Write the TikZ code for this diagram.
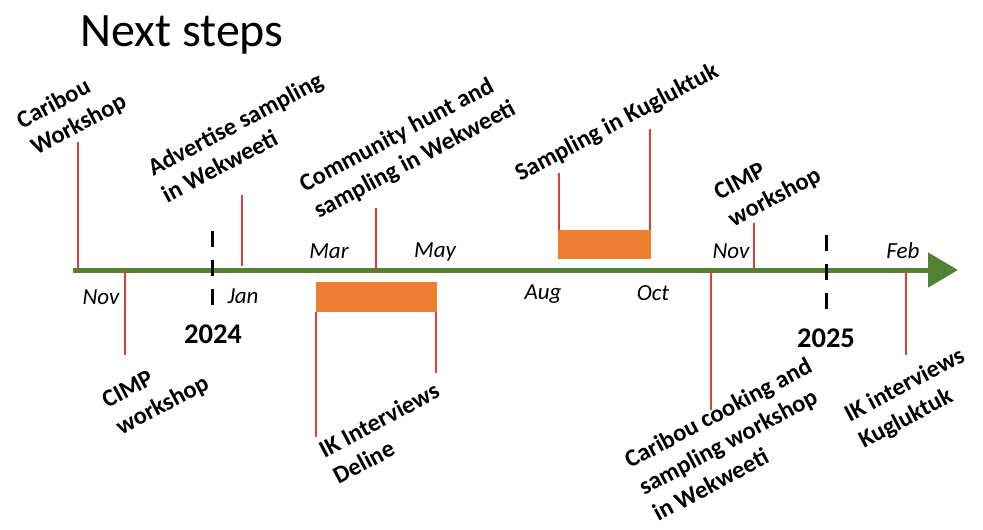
\documentclass[tikz,border=0pt]{standalone}
\usepackage{fontspec}
\setmainfont{Carlito}
\usetikzlibrary{arrows.meta}
\definecolor{axisgreen}{HTML}{548235}
\definecolor{barorange}{HTML}{ED7D31}
\definecolor{tickred}{HTML}{E03C3C}
\begin{document}
\begin{tikzpicture}[x=1pt,y=-1pt,
  evlabel/.style={rotate=28,align=left,inner sep=0pt,font=\bfseries\fontsize{24.5}{30}\selectfont},
  month/.style={anchor=base,inner sep=0pt,font=\itshape\fontsize{23}{27}\selectfont},
  year/.style={anchor=base,inner sep=0pt,font=\bfseries\fontsize{28.5}{32}\selectfont},
  tick/.style={draw=tickred,line width=1.5pt},
  bar/.style={fill=barorange,draw=none},
  yeardash/.style={draw=black,line width=3pt,dash pattern=on 16pt off 13pt}]
\useasboundingbox (0,0) rectangle (983,530);
% title
\node[anchor=base west,inner sep=0pt,font=\fontsize{48}{52}\selectfont] (title) at (80,46) {Next steps};
% axis
\coordinate (axs) at (73,270);
\coordinate (axe) at (958,270);
\draw[axisgreen,line width=5pt,-{Triangle[length=30pt,width=34pt]}] (axs) -- (axe);
% year separators
\coordinate (d1t) at (212,231); \coordinate (d1b) at (212,312);
\coordinate (d2t) at (826,235); \coordinate (d2b) at (826,316);
\draw[yeardash] (d1t) -- (d1b);
\draw[yeardash] (d2t) -- (d2b);
\node[year] (y2024) at (213,343) {2024};
\node[year] (y2025) at (826,347) {2025};
% months
\node[month] (mnov1) at (101,304) {Nov};
\node[month] (mjan) at (243,303) {Jan};
\node[month] (mmar) at (329,258) {Mar};
\node[month] (mmay) at (435,257) {May};
\node[month] (maug) at (543,299) {Aug};
\node[month] (moct) at (653,300) {Oct};
\node[month] (mnov2) at (731,258) {Nov};
\node[month] (mfeb) at (903,258) {Feb};
% bars
\node[bar,minimum width=121pt,minimum height=30pt,inner sep=0pt] (bar1) at (376.5,297) {};
\node[bar,minimum width=93pt,minimum height=29pt,inner sep=0pt] (bar2) at (604.5,244.5) {};
% tick coordinates
\coordinate (t1a) at (78,142);  \coordinate (t1b) at (78,270);
\coordinate (t2a) at (125,270); \coordinate (t2b) at (125,355);
\coordinate (t3a) at (242,195); \coordinate (t3b) at (242,266);
\coordinate (t4a) at (376,208); \coordinate (t4b) at (376,270);
\coordinate (t5a) at (316,312); \coordinate (t5b) at (316,437);
\coordinate (t6a) at (436,312); \coordinate (t6b) at (436,373);
\coordinate (t7a) at (559,230); \coordinate (t7b) at (559,173);
\coordinate (t8a) at (650,230); \coordinate (t8b) at (650,129);
\coordinate (t9a) at (754,223); \coordinate (t9b) at (754,269);
\coordinate (t10a) at (711,271); \coordinate (t10b) at (711,410);
\coordinate (t11a) at (906,271); \coordinate (t11b) at (906,355);
\foreach \i in {1,...,11} {\draw[tick] (t\i a) -- (t\i b);}
% event labels
\node[evlabel] (e1) at (72,112) {Caribou\\Workshop};
\node[evlabel] (e2) at (242,137) {Advertise sampling\\in Wekweeti};
\node[evlabel] (e3) at (408,147) {Community hunt and\\sampling in Wekweeti};
\node[evlabel] (e4) at (617,123) {Sampling in Kugluktuk};
\node[evlabel] (e5) at (768,185) {CIMP\\workshop};
\node[evlabel] (e6) at (156,393) {CIMP\\workshop};
\node[evlabel] (e7) at (386,433) {IK Interviews\\Deline};
\node[evlabel] (e8) at (732,439) {Caribou cooking and\\sampling workshop\\in Wekweeti};
\node[evlabel] (e9) at (912,399) {IK interviews\\Kugluktuk};
\end{tikzpicture}
\end{document}
